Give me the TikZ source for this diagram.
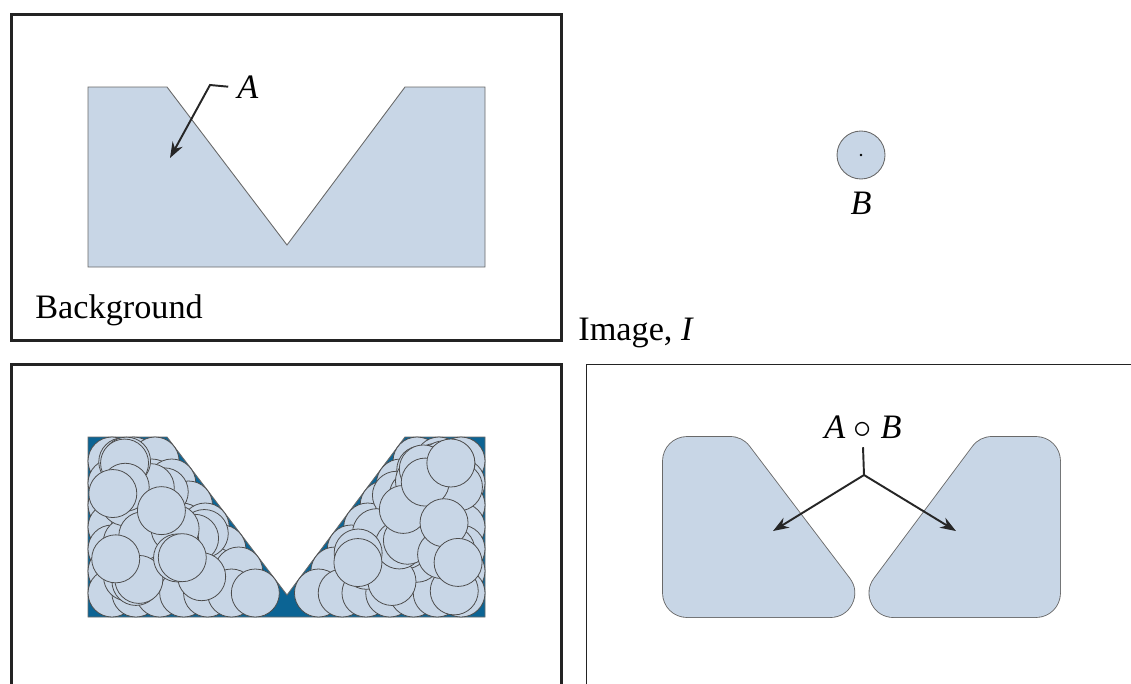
\documentclass[tikz,border=0pt]{standalone}
\usepackage{fontspec}
\setmainfont{Liberation Serif}
\usetikzlibrary{arrows.meta}
\definecolor{shapefill} {RGB}{200, 214, 230}
\definecolor{shapeedge} {RGB}{105, 105, 105}
\definecolor{deepblue}  {RGB}{ 12, 100, 148}
\definecolor{framegray} {RGB}{ 35,  35,  35}

\begin{document}
\begin{tikzpicture}[x=0.02cm, y=-0.02cm, font=\fontsize{19.5}{23}\selectfont,
    panelframe/.style={line width=1.7pt, framegray},
    panelthin/.style={line width=0.9pt, framegray},
    vshape/.style={fill=shapefill, draw=shapeedge, line width=0.5pt},
    probe/.style={fill=shapefill, draw=black!70, line width=0.45pt},
    rimstroke/.style={draw=shapeedge, line width=0.995cm, line join=round},
    rimfill/.style={draw=shapefill, fill=shapefill, line width=0.96cm, line join=round},
    pointer/.style={line width=1.1pt, black!85, -{Stealth[length=9pt, width=6.5pt]}}]
  \useasboundingbox (0,0) rectangle (1131,683);
  % panel frames
  \draw[panelframe] (11.5,14.5) rectangle (561.5,340.5);
  \draw[panelframe] (11.5,700) -- (11.5,364) -- (561.5,364) -- (561.5,700);
  \draw[panelthin] (586.5,700) -- (586.5,364.5) -- (1140,364.5);
  % image A with its pointer
  \filldraw[vshape] (88,87) -- (167,87) -- (287,245) -- (405,87) -- (485,87)
    -- (485,267) -- (88,267) -- cycle;
  \node[anchor=base west, inner sep=0pt] (lblA) at (237,98) {\textit{A}};
  \coordinate (kneeA) at (210,85);
  \coordinate (tipA) at (170,158);
  \draw[pointer] ([xshift=-5pt]lblA.west) -- (kneeA) -- (tipA);
  \node[anchor=base west, inner sep=0pt] (bgname) at (35,318) {Background};
  % structuring element B
  \def\rb{24}
  \filldraw[vshape] (861,155) circle (\rb);
  \fill (861,155) circle (1.4);
  \node[anchor=base, inner sep=0pt] (lblB) at (861,214) {\textit{B}};
  \node[anchor=base west, inner sep=0pt] (imgname) at (578,340) {Image, \textit{I}};
  % B swept inside A (shifted down by 350)
  \filldraw[fill=deepblue, draw=shapeedge, line width=0.5pt] (88,437) -- (167,437)
    -- (287,595) -- (405,437) -- (485,437) -- (485,617) -- (88,617) -- cycle;
  % base cover: rows of discs
  \foreach \row in {0,...,6}{
    \pgfmathsetmacro\cy{461+22*\row}
    \pgfmathsetmacro\xl{136.86+0.75949*(\cy-437)}
    \pgfmathtruncatemacro\nl{ceil((\xl-112)/26)}
    \foreach \i in {0,...,\nl}
      \filldraw[probe] ({112+(\xl-112)*\i/\nl},\cy) circle (\rb);
    \pgfmathsetmacro\xr{434.96-0.74684*(\cy-437)}
    \pgfmathtruncatemacro\nr{ceil((461-\xr)/26)}
    \foreach \i in {0,...,\nr}
      \filldraw[probe] ({\xr+(461-\xr)*\i/\nr},\cy) circle (\rb);
  }
  % loose discs on top, anywhere B still fits
  \pgfmathsetseed{11}
  \foreach \k in {1,...,30}{
    \pgfmathsetmacro\cy{461+132*rnd}
    \pgfmathsetmacro\xl{136.86+0.75949*(\cy-437)}
    \filldraw[probe] ({112+(\xl-112)*rnd},\cy) circle (\rb);
    \pgfmathsetmacro\cy{461+132*rnd}
    \pgfmathsetmacro\xr{434.96-0.74684*(\cy-437)}
    \filldraw[probe] ({\xr+(461-\xr)*rnd},\cy) circle (\rb);
  }
  % opening A o B: eroded pieces grown back by B
  \begin{scope}[shift={(575,0)}]
    \draw[rimstroke] (112,461) -- (155.1,461) -- (255.3,593) -- (112,593) -- cycle;
    \filldraw[rimfill] (112,461) -- (155.1,461) -- (255.3,593) -- (112,593) -- cycle;
    \draw[rimstroke] (417,461) -- (461,461) -- (461,593) -- (318.5,593) -- cycle;
    \filldraw[rimfill] (417,461) -- (461,461) -- (461,593) -- (318.5,593) -- cycle;
  \end{scope}
  \node[anchor=base, inner sep=5pt] (lblAB) at (863,438) {\textit{A}~$\circ$~\textit{B}};
  \coordinate (fork) at (864,475);
  \coordinate (tipL) at (773,531);
  \coordinate (tipR) at (956,531);
  \draw[line width=1.1pt, black!85] (lblAB.south) -- (fork);
  \draw[pointer] (fork) -- (tipL);
  \draw[pointer] (fork) -- (tipR);
\end{tikzpicture}
\end{document}
